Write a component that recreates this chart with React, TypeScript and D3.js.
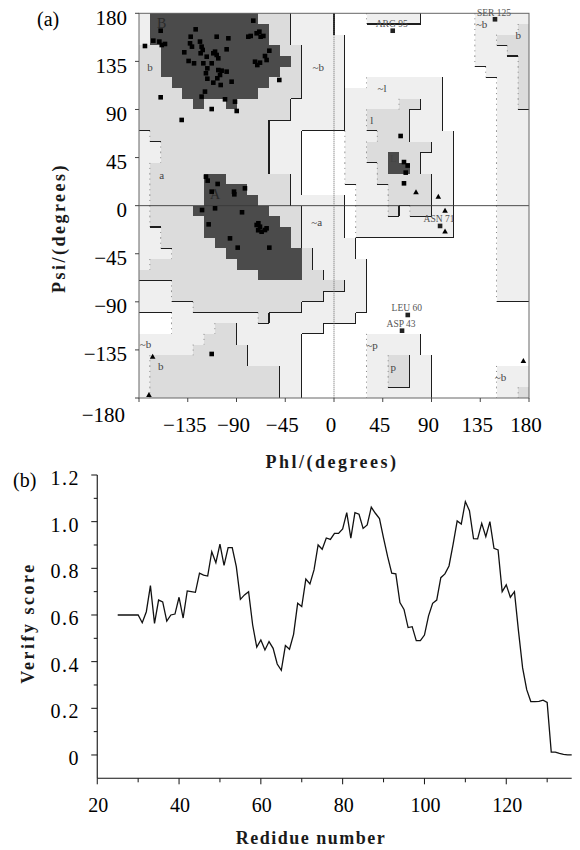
import React from "react";
import * as d3 from "d3";

// ---------- Ramachandran plot data ----------
// 36 rows (psi 180 -> -180, 10 deg each) x 36 cols (phi -180 -> 180)
// D = most favoured, M = additional allowed, L = generously allowed, . = disallowed
const GRID_ROWS: string[][] = [
  ["LDDDDD", "DDDDDM", "MMLLLL", "...LLL", "LL....", ".LLLLL"],
  ["LDDDDD", "DDDDDD", "MMLLLL", "......", "......", ".LLLLM"],
  ["LDDDDD", "DDDDDD", "MMLLLL", "L.....", "......", ".LLMMM"],
  ["MMDDDD", "DDDDDD", "DMMLLL", "L.....", "......", ".LLLMM"],
  ["MMDDDD", "DDDDDD", "DDMLLL", "L.....", "......", ".LLLLM"],
  ["MMDDDD", "DDDDDD", "DMMLLL", "L.....", "......", "..LLLM"],
  ["MMMDDD", "DDDDDD", "MMMLLL", "L..LLL", "LLLL..", "...LLM"],
  ["MMMMDD", "DDDDDM", "MMMLLL", "LLLLLL", "LLLL..", "...LLM"],
  ["MMMMMD", "MMDMMM", "MMLLLL", "LLLLLL", "MMLL..", "...LLM"],
  ["MMMMMM", "MMMMMM", "MMLLLL", "LLLMMM", "MLLL..", "...LLL"],
  ["MMMMMM", "MMMMMM", "LLLLLL", "LLLMMM", "MLLL..", "...LLL"],
  ["LMMMMM", "MMMMMM", "LLL...", ".LLLMM", "MLLLL.", "...LLL"],
  ["LLMMMM", "MMMMMM", "LLL...", ".LLMMM", "MMMLL.", "...LLL"],
  ["LLMMMM", "MMMMMM", "LLL...", ".LLMMD", "MMLLL.", "...LLL"],
  ["LMMMMM", "MMMMMM", "LLL...", ".LLLMD", "DMLLL.", "...LLL"],
  ["LMMMMM", "DDMMMM", "MML...", ".LLLMM", "MMMLL.", "...LLL"],
  ["LMMMMM", "DDDDMM", "MML...", "..LLLM", "MMMLL.", "...LLL"],
  ["LMMMMM", "DDDDDM", "MMLLLL", "L.LLLM", "MMMLL.", "...LLL"],
  ["LMMMMD", "DDDDDD", "MMMLLL", "L.LLLM", "LMMLL.", "...LLL"],
  ["LMMMMM", "DDDDDD", "DMMLLL", "L.LLLL", "LLLLL.", "...LLL"],
  ["LLMMMM", "DDDDDD", "DDMLLL", "L.LLLL", "LLLLL.", "...LLL"],
  ["LLMMMM", "MDDDDD", "DDMLLL", "LL....", "......", "...LLL"],
  ["LLLMMM", "MMDDDD", "DDDMLL", "LL....", "......", "...LLL"],
  ["LMMMMM", "MMMDDD", "DDDMLL", "LLL...", "......", "...LLL"],
  ["MMMMMM", "MMMMMD", "DDDMML", "LLL...", "......", "...LLL"],
  ["LLLMMM", "MMMMMM", "MMMMMM", "MLL...", "......", "...LLL"],
  ["LLLMMM", "MMMMMM", "MMMMML", "LLL...", "......", "...LLL"],
  ["LLLLLM", "MMMMMM", "MMMLLL", "LLL...", "......", "......"],
  ["...LLL", "LLLLLM", "LLLLLL", "LL....", "......", "......"],
  ["...LLL", "LMMLLL", "LLLLL.", "......", "......", "......"],
  ["LLLLLL", "MMMLLL", "LLL...", "...LLL", "LL....", "......"],
  ["LLLLLM", "MMMMLL", "LLL...", "...LLL", "LL....", "......"],
  ["LMMMMM", "MMMMLL", "LLL...", "...LLM", "MLL...", "......"],
  ["LMMMMM", "MMMMMM", "MLL...", "...LLM", "MLL...", "...LLL"],
  ["LMMMMM", "MMMMMM", "MLL...", "...LLM", "MLL...", "...LLL"],
  ["LMMMMM", "MMMMMM", "MLL...", "...LLL", "LLL...", "...LLM"],
];
const SHADE: Record<string, number> = { ".": 0, L: 1, M: 2, D: 3 };
const FILL = ["#ffffff", "#efefef", "#dcdcdc", "#4b4b4b"];

const PSI_TICKS = [180, 135, 90, 45, 0, -45, -90, -135, -180];
const PHI_TICKS = [-135, -90, -45, 0, 45, 90, 135, 180];

const CORE_POINTS: [number, number][] = [
  [-174.5, 149.4], [-160, 163.7], [-166.8, 154.4], [-161.2, 153.5], [-159, 150.3], [-156, 151.3],
  [-160, 101.4], [-140.6, 80.2], [-127.7, 165], [-132.3, 158.1], [-132.9, 151.9], [-131.1, 148.8],
  [-138.2, 143.5], [-134.2, 135.4], [-129.2, 133.2], [-123.7, 153.5], [-122.2, 148.8], [-121.2, 145.7],
  [-123.1, 142.6], [-117.5, 139.4], [-111.4, 142.6], [-109.8, 144.1], [-108.3, 141], [-106.8, 137.9],
  [-108.3, 158.1], [-112.9, 133.2], [-116.9, 128.5], [-106.8, 126.9], [-103.7, 126.3], [-99.1, 125.4],
  [-105.2, 122.3], [-107.7, 119.2], [-116.9, 118.8], [-111.4, 115.1], [-104.6, 112.9], [-94.5, 116],
  [-99.1, 146.3], [-97.5, 156.6], [-119.1, 106.7], [-122.2, 102], [-112.9, 90.4], [-100.6, 99.5],
  [-91.4, 97.3], [-89.8, 88.6], [-74.5, 173.1], [-76.9, 158.8], [-71.4, 161.3], [-68.9, 162.8],
  [-67.7, 158.1], [-65.2, 158.8], [-72.9, 134.7], [-70.8, 131.6], [-68.3, 133.8], [-63.7, 140],
  [-59.7, 145], [-62.2, 136.3], [-50.5, 117.6], [-79.1, 158.1], [-118.2, 123.9], [-120.6, 133.2],
  [-118.2, 27.1], [-116.6, 23.4], [-107.4, 20.3], [-112.9, 13.1], [-92.3, 13.1], [-92, 10.6],
  [-82.2, 16.2], [-121.8, -4.1], [-109.8, -2.5], [-84.9, -6.2], [-115.7, -17.5], [-71.4, -18.1],
  [-69.8, -16.5], [-68.3, -19.7], [-66.8, -24.4], [-63.7, -22.8], [-62.2, -21.2], [-96, -30.6],
  [-88.9, -39.3], [-59.7, -39.3], [-70, -23],
  [-112.9, -138.8], [61.5, 65.2], [64.6, 40.8], [68, 37.5], [66.2, 30.9], [64.6, 20.9],
];
const GLY_POINTS: [number, number][] = [
  [75.7, 12.5], [96.3, 8.4], [102.5, -4.7], [102.5, -24.3], [174.8, -145.4], [-170.8, -177.2], [-167.4, -141.3],
];
const NAMED_NAMES = ["ARG 95", "SER 125", "ASN 71", "LEU 60", "ASP 43"];
const NAMED_PHI = [54.2, 148.6, 97.9, 68.1, 62.8];
const NAMED_PSI = [163.7, 174.4, -19, -102.3, -117];

const REGION_TEXT = ["B", "b", "A", "a", "~b", "~a", "~l", "l", "L", "~p", "p", "~b", "b", "~b", "~b", "b"];
const REGION_PHI = [-159, -169.8, -109.8, -159, -14.5, -16, 44.4, 34.9, 54.7, 35.2, 54.7, -174, -160, 153.7, 136.3, 170.1];
const REGION_PSI = [170.6, 130, 10, 28.7, 130, -15, 109.8, 80, 44.2, -130.6, -150.9, -129.5, -150, -160.3, 170, 159.7];

// ---------- Verify score data ----------
const RESIDUE_START = 25;
const VERIFY: number[] = [
  0.6, 0.6, 0.6, 0.6, 0.6, 0.6, 0.567, 0.614, 0.726, 0.564, 0.664, 0.656, 0.574, 0.6, 0.604, 0.676,
  0.587, 0.703, 0.7, 0.697, 0.779, 0.771, 0.767, 0.871, 0.824, 0.904, 0.813, 0.889, 0.889, 0.807,
  0.667, 0.686, 0.7, 0.557, 0.462, 0.493, 0.45, 0.486, 0.457, 0.39, 0.363, 0.469, 0.453, 0.517,
  0.65, 0.636, 0.754, 0.733, 0.793, 0.9, 0.882, 0.93, 0.924, 0.95, 0.95, 0.969, 1.039, 0.929,
  1.039, 1.032, 0.971, 0.986, 1.062, 1.036, 1.013, 0.929, 0.85, 0.779, 0.776, 0.653, 0.624, 0.546,
  0.55, 0.49, 0.49, 0.514, 0.596, 0.65, 0.664, 0.76, 0.776, 0.81, 0.903, 1.003, 0.99, 1.086, 1.047,
  0.927, 0.926, 0.993, 0.936, 1.0, 0.886, 0.879, 0.7, 0.729, 0.676, 0.7, 0.53, 0.373, 0.28, 0.229,
  0.229, 0.23, 0.235, 0.225, 0.012, 0.012, 0.007, 0.003, 0.0, 0.0,
];
const X_TICKS_MAJOR = [20, 40, 60, 80, 100, 120];
const X_TICKS_MINOR = [30, 50, 70, 90, 110, 130];
const Y_TICKS_MAJOR = [0, 0.2, 0.4, 0.6, 0.8, 1.0, 1.2];
const Y_TICKS_MINOR = [0.1, 0.3, 0.5, 0.7, 0.9, 1.1];
const Y_LABELS = ["0", "0.2", "0.4", "0.6", "0.8", "1.0", "1.2"];

const SERIF = "'Liberation Serif', 'Times New Roman', serif";

export default function App() {
  const xPhi = d3.scaleLinear().domain([-180, 180]).range([139, 529]);
  const yPsi = d3.scaleLinear().domain([180, -180]).range([13.3, 398]);

  const grid = GRID_ROWS.map((g) => g.join("").split("").map((ch) => SHADE[ch] ?? 0));

  const cells: JSX.Element[] = [];
  const solid: string[] = [];
  const dotted: string[] = [];
  grid.forEach((row, r) => {
    row.forEach((s, c) => {
      const p0 = -180 + 10 * c;
      const q0 = 180 - 10 * r;
      if (s > 0) {
        cells.push(
          <rect
            key={`c${r}-${c}`}
            x={xPhi(p0)}
            y={yPsi(q0)}
            width={xPhi(p0 + 10) - xPhi(p0)}
            height={yPsi(q0 - 10) - yPsi(q0)}
            fill={FILL[s]}
          />
        );
      }
      if (c < 35) {
        const b = row[c + 1];
        const x = xPhi(p0 + 10);
        if (s > b && s <= 2) solid.push(`M${x},${yPsi(q0)}V${yPsi(q0 - 10)}`);
        else if (b > s && b <= 2) dotted.push(`M${x},${yPsi(q0)}V${yPsi(q0 - 10)}`);
      }
      if (r < 35) {
        const b = grid[r + 1][c];
        const y = yPsi(q0 - 10);
        if (s > b && s <= 2) solid.push(`M${xPhi(p0)},${y}H${xPhi(p0 + 10)}`);
      }
    });
  });

  // bottom chart scales
  const xRes = d3.scaleLinear().domain([20, 136]).range([97.25, 571.7]);
  const yVal = d3.scaleLinear().domain([-0.1, 1.2]).range([778.3, 475]);
  const line = d3
    .line<number>()
    .x((_, i) => xRes(RESIDUE_START + i))
    .y((d) => yVal(d));

  const tri = (cx: number, cy: number) => `M${cx},${cy - 3}L${cx + 2.8},${cy + 2}L${cx - 2.8},${cy + 2}Z`;

  const titleProps = {
    fontFamily: SERIF,
    fontSize: 18,
    fontWeight: "bold" as const,
    fill: "#1a1a1a",
    textAnchor: "middle" as const,
    dominantBaseline: "central" as const,
  };

  return (
    <svg
      width={580}
      height={850}
      style={{ position: "absolute", left: 0, top: 0, background: "#fff" }}
      xmlns="http://www.w3.org/2000/svg"
    >
      <rect x={0} y={0} width={580} height={850} fill="#fff" />
      {/* ---------------- (a) Ramachandran ---------------- */}
      <g shapeRendering="crispEdges">{cells}</g>
      <path d={dotted.join("")} stroke="#888" strokeWidth={1} strokeDasharray="1 4" fill="none" />
      <path d={solid.join("")} stroke="#1e1e1e" strokeWidth={1.1} fill="none" shapeRendering="crispEdges" />
      {/* extra boundary of the ~b region at phi = 10 */}
      <line x1={xPhi(10)} x2={xPhi(10)} y1={yPsi(160)} y2={yPsi(70)} stroke="#1e1e1e" strokeWidth={1.1} shapeRendering="crispEdges" />
      {/* zero lines */}
      <line x1={xPhi(-180)} x2={xPhi(180)} y1={yPsi(0)} y2={yPsi(0)} stroke="#3a3a3a" strokeWidth={0.9} />
      <line x1={xPhi(0)} x2={xPhi(0)} y1={yPsi(180)} y2={yPsi(-180)} stroke="#666" strokeWidth={1} strokeDasharray="1 1" />
      {/* frame */}
      <rect
        x={xPhi(-180)}
        y={yPsi(180)}
        width={xPhi(180) - xPhi(-180)}
        height={yPsi(-180) - yPsi(180)}
        fill="none"
        stroke="#666"
        strokeWidth={1}
      />
      {/* region labels */}
      {REGION_TEXT.map((t, i) => (
        <text
          key={`rl${i}`}
          x={xPhi(REGION_PHI[i])}
          y={yPsi(REGION_PSI[i])}
          textAnchor="middle"
          dominantBaseline="central"
          fontFamily={SERIF}
          fontSize={t === "A" || t === "B" ? 14 : 11}
          fill={t === "A" || t === "B" ? "#2a2a2a" : "#444"}
        >
          {t}
        </text>
      ))}
      {/* points */}
      {CORE_POINTS.map(([p, q], i) => (
        <rect key={`p${i}`} x={xPhi(p) - 2.3} y={yPsi(q) - 2.3} width={4.6} height={4.6} fill="#000" />
      ))}
      {NAMED_NAMES.map((n, i) => (
        <g key={`n${i}`}>
          <rect x={xPhi(NAMED_PHI[i]) - 2.3} y={yPsi(NAMED_PSI[i]) - 2.3} width={4.6} height={4.6} fill="#222" />
          <text
            x={xPhi(NAMED_PHI[i]) - 1}
            y={yPsi(NAMED_PSI[i]) - 3.5}
            textAnchor="middle"
            fontFamily={SERIF}
            fontSize={9.5}
            fill="#555"
          >
            {n}
          </text>
        </g>
      ))}
      {GLY_POINTS.map(([p, q], i) => (
        <path key={`g${i}`} d={tri(xPhi(p), yPsi(q))} fill="#000" />
      ))}
      {/* axes ticks */}
      {PSI_TICKS.map((v) => (
        <g key={`yt${v}`}>
          <line x1={xPhi(-180) - 4} x2={xPhi(-180)} y1={yPsi(v)} y2={yPsi(v)} stroke="#444" />
          <text
            x={v === -180 ? 125 : 127}
            y={v === -180 ? 422 : yPsi(v) + 11.5}
            textAnchor="end"
            fontFamily={SERIF}
            fontSize={21}
            fill="#000"
          >
            {v < 0 ? `\u2212${-v}` : `${v}`}
          </text>
        </g>
      ))}
      {[-180, ...PHI_TICKS].map((v) => (
        <line key={`xtk${v}`} x1={xPhi(v)} x2={xPhi(v)} y1={yPsi(-180)} y2={yPsi(-180) + 4} stroke="#444" />
      ))}
      {PHI_TICKS.map((v) => (
        <text
          key={`xt${v}`}
          x={xPhi(v) - 3}
          y={432}
          textAnchor="middle"
          fontFamily={SERIF}
          fontSize={21}
          fill="#000"
        >
          {v < 0 ? `\u2212${-v}` : `${v}`}
        </text>
      ))}
      <text x={37} y={26} fontFamily={SERIF} fontSize={20} fill="#000">
        (a)
      </text>
      <text transform="translate(59,228) rotate(-90)" letterSpacing={2.5} {...titleProps}>
        Psi/(degrees)
      </text>
      <text x={332} y={462} letterSpacing={2.5} {...titleProps}>
        Phl/(degrees)
      </text>

      {/* ---------------- (b) Verify score ---------------- */}
      <line x1={xRes(20)} x2={xRes(20)} y1={yVal(1.2)} y2={yVal(-0.1)} stroke="#111" strokeWidth={1.1} />
      <line x1={xRes(20)} x2={xRes(136)} y1={yVal(-0.1)} y2={yVal(-0.1)} stroke="#111" strokeWidth={1.1} />
      {Y_TICKS_MAJOR.map((v, i) => (
        <g key={`by${i}`}>
          <line x1={xRes(20) - 6} x2={xRes(20)} y1={yVal(v)} y2={yVal(v)} stroke="#111" />
          <text
            x={80}
            y={yVal(v) + 10}
            textAnchor="end"
            fontFamily={SERIF}
            fontSize={20}
            letterSpacing={1.5}
            fill="#000"
          >
            {Y_LABELS[i]}
          </text>
        </g>
      ))}
      {Y_TICKS_MINOR.map((v, i) => (
        <line key={`bym${i}`} x1={xRes(20) - 3.5} x2={xRes(20)} y1={yVal(v)} y2={yVal(v)} stroke="#111" />
      ))}
      {X_TICKS_MAJOR.map((v) => (
        <g key={`bx${v}`}>
          <line x1={xRes(v)} x2={xRes(v)} y1={yVal(-0.1)} y2={yVal(-0.1) + 6} stroke="#111" />
          <text x={xRes(v) + 1} y={812} textAnchor="middle" fontFamily={SERIF} fontSize={20} fill="#000">
            {v}
          </text>
        </g>
      ))}
      {X_TICKS_MINOR.map((v) => (
        <line key={`bxm${v}`} x1={xRes(v)} x2={xRes(v)} y1={yVal(-0.1)} y2={yVal(-0.1) + 4} stroke="#111" />
      ))}
      <path d={line(VERIFY) || ""} fill="none" stroke="#111" strokeWidth={1.3} strokeLinejoin="miter" />
      <text x={13} y={487} fontFamily={SERIF} fontSize={20} fill="#000">
        (b)
      </text>
      <text transform="translate(28,623) rotate(-90)" letterSpacing={2.5} {...titleProps}>
        Verify score
      </text>
      <text x={311} y={838} letterSpacing={1.5} {...titleProps}>
        Redidue number
      </text>
    </svg>
  );
}
